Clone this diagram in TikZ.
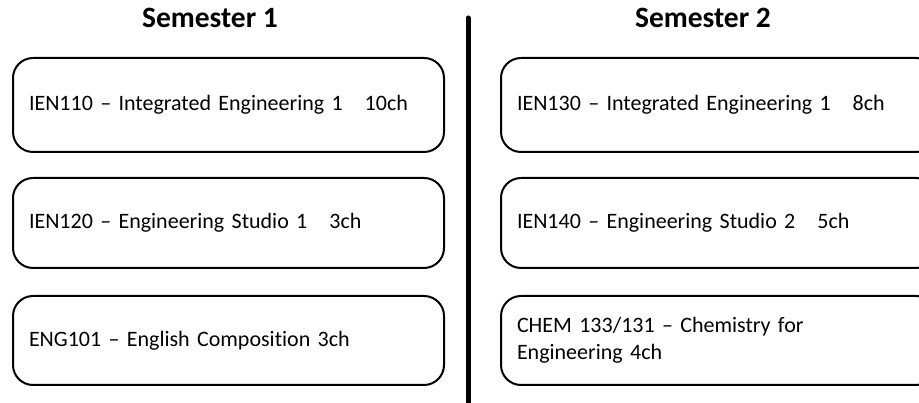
\documentclass[tikz,border=0pt]{standalone}
\usepackage{fontspec}
\setmainfont{Carlito}[Ligatures={NoCommon}]
\begin{document}
\begin{tikzpicture}[x=1pt,y=1pt,
  course/.style={draw=black, line width=2pt, rounded corners=20pt, anchor=north west,
    minimum height=92pt, inner xsep=16pt, inner ysep=0pt, align=left,
    font=\fontsize{22}{27}\selectfont},
  lcourse/.style={course, text width=399pt, minimum width=431pt},
  rcourse/.style={course, text width=403pt, minimum width=435pt},
  title/.style={font=\fontsize{29.5}{32}\selectfont\bfseries, anchor=base}]
\clip (0,0) rectangle (919,403);
\node[title] (s1) at (210,375) {Semester 1};
\node[title] (s2) at (703,375) {Semester 2};
\coordinate (divtop) at (468,385);
\coordinate (divbot) at (468,-5);
\draw[line width=5pt, line cap=round] (divtop) -- (divbot);
\node[lcourse, minimum height=94pt] (a1) at (12,346) {IEN110 -- Integrated Engineering 1\ \ \ 10ch};
\node[lcourse, minimum height=90pt] (a2) at (12,226) {IEN120 -- Engineering Studio 1\ \ \ 3ch};
\node[lcourse, minimum height=89pt] (a3) at (12,108) {ENG101 -- English Composition 3ch};
\node[rcourse, minimum height=94pt] (b1) at (500,346) {IEN130 -- Integrated Engineering 1\ \ \ 8ch};
\node[rcourse, minimum height=90pt] (b2) at (500,226) {IEN140 -- Engineering Studio 2\ \ \ 5ch};
\node[rcourse, minimum height=89pt] (b3) at (500,108) {CHEM 133/131 -- Chemistry for\\Engineering 4ch};
\end{tikzpicture}
\end{document}
